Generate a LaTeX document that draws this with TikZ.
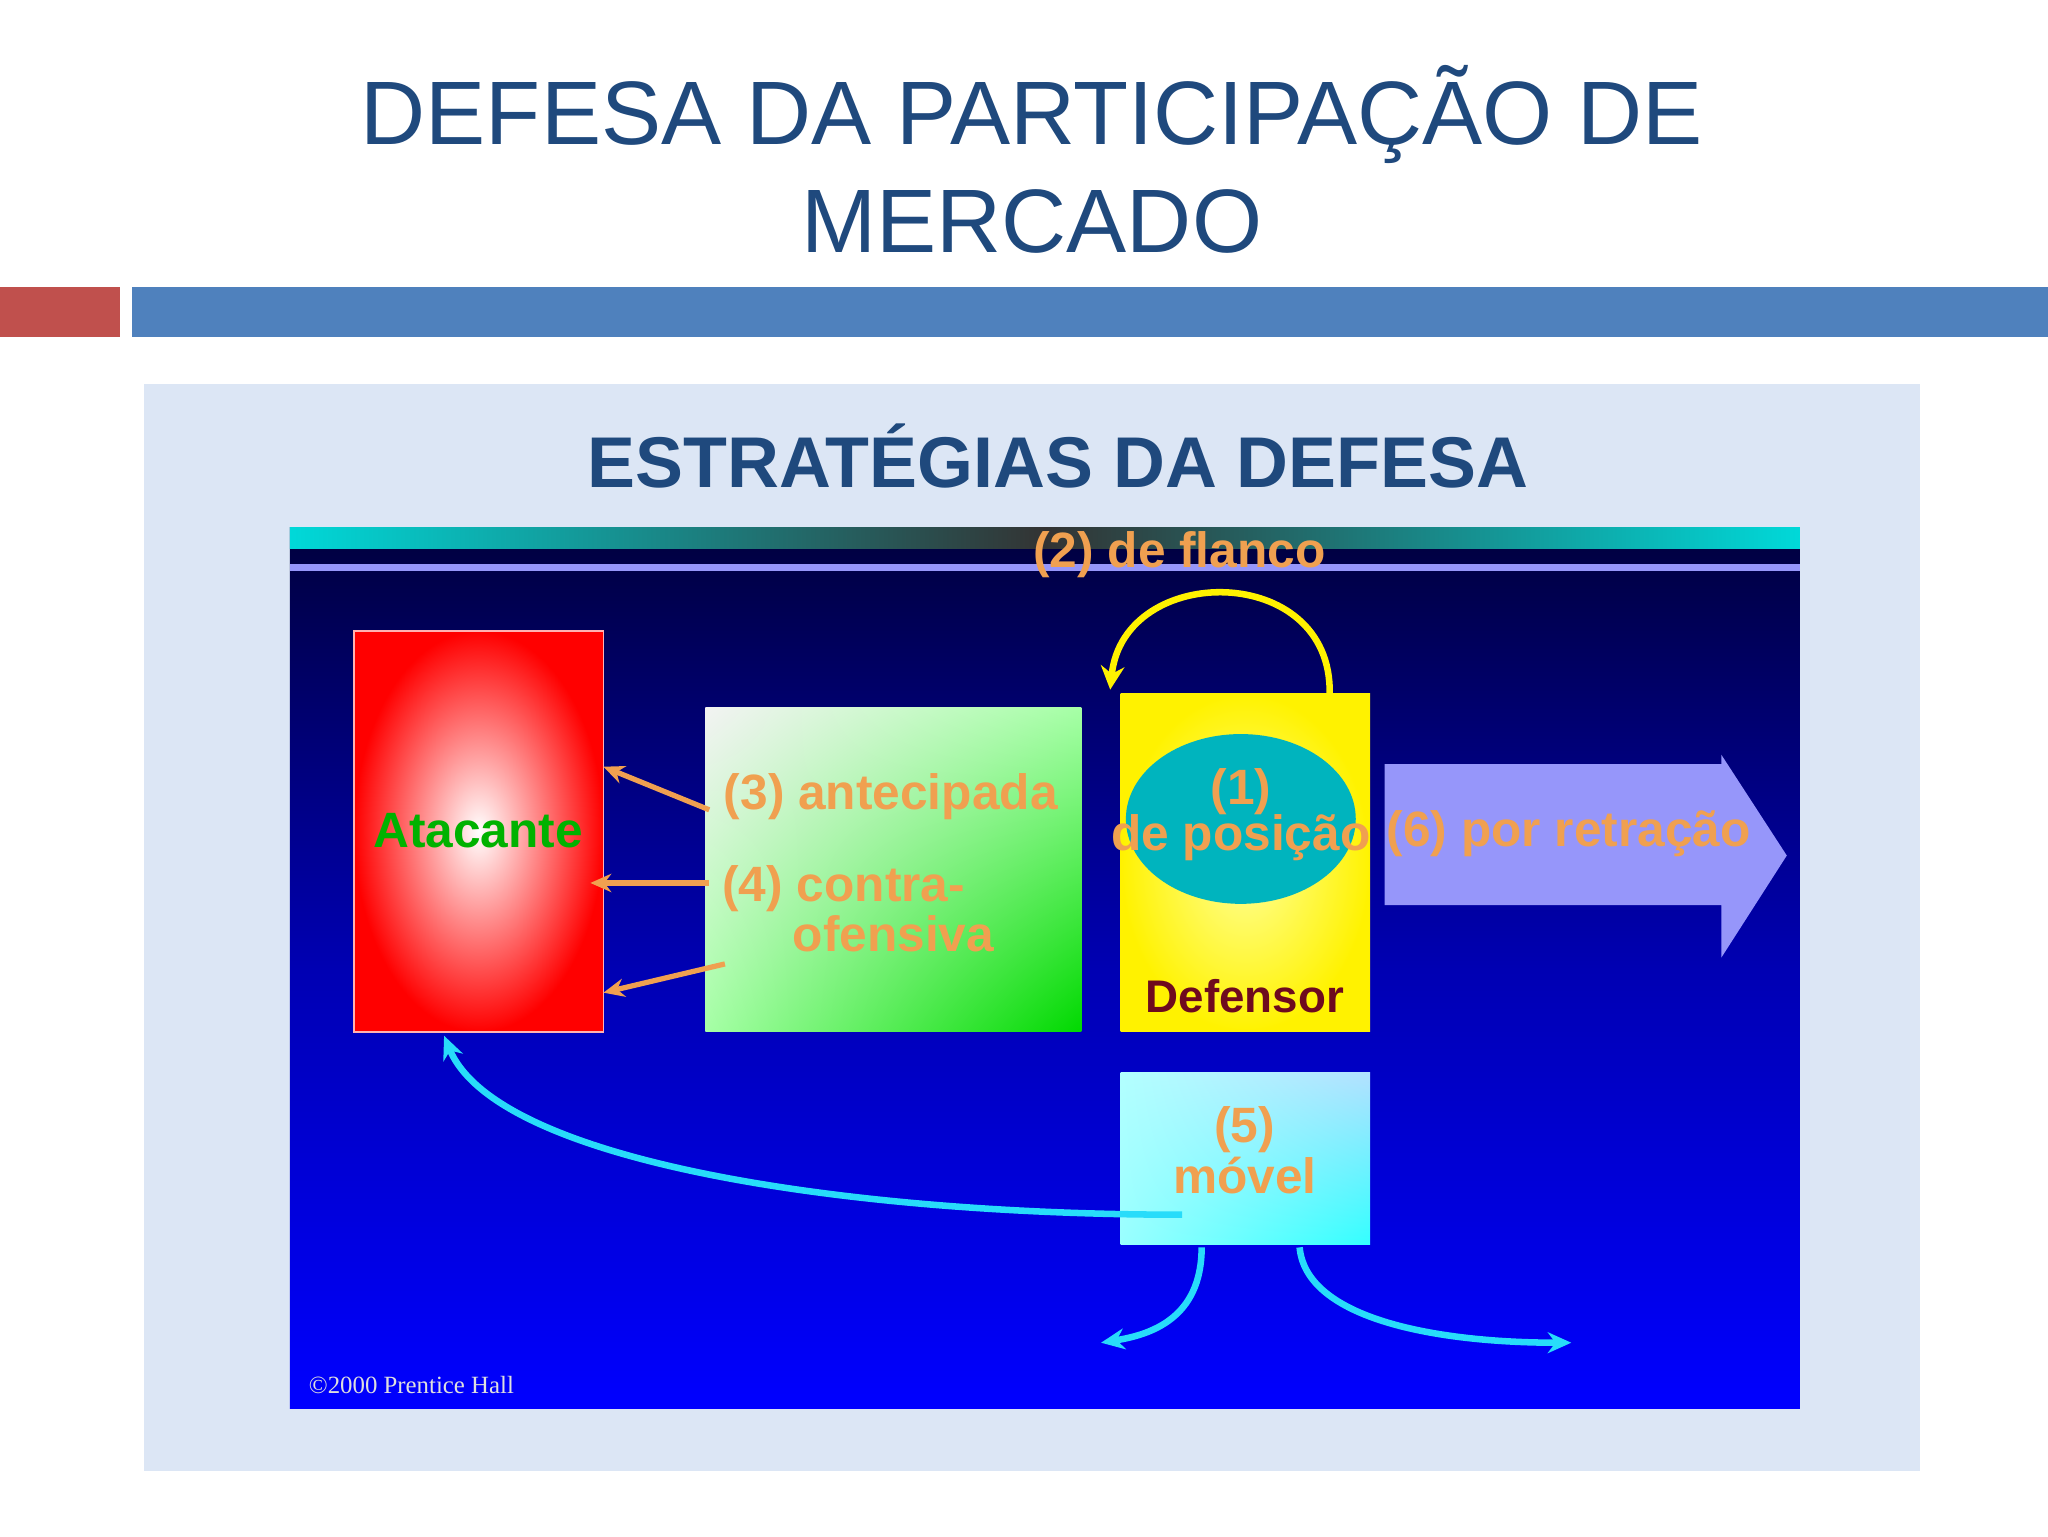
\documentclass[tikz,border=0pt]{standalone}
\usepackage{fontspec}
\setmainfont{Liberation Sans}
\usetikzlibrary{arrows.meta,shapes.geometric,shadings}
\definecolor{ttl}{RGB}{31,73,125}
\definecolor{barblue}{RGB}{79,129,189}
\definecolor{barred}{RGB}{192,80,77}
\definecolor{panel}{RGB}{220,230,245}
\definecolor{org}{RGB}{240,160,80}
\definecolor{teal1}{RGB}{0,180,190}
\definecolor{lav}{RGB}{150,150,250}
\definecolor{cyn}{RGB}{40,220,250}
\definecolor{dred}{RGB}{110,10,30}
\tikzset{
 lbl/.style={text=org,font=\bfseries\fontsize{38}{40}\selectfont,inner sep=0pt},
 oarr/.style={draw=org,line width=4pt,-{Stealth[length=16pt,width=14pt]}},
 carr/.style={draw=cyn,line width=5pt,-{Stealth[length=18pt,width=16pt]}},
}
\begin{document}
\begin{tikzpicture}[x=1pt,y=-1pt]
\useasboundingbox (0,0) rectangle (1568,1176);
\fill[white] (0,0) rectangle (1568,1176);
\node[text=ttl,font=\fontsize{69}{82}\selectfont,align=center] (title) at (790,122) {DEFESA DA PARTICIPAÇÃO DE\\MERCADO};
\fill[barred] (0,220) rectangle (92,258);
\fill[barblue] (101,220) rectangle (1568,258);
\fill[panel] (110,294) rectangle (1470,1126);
\node[text=ttl,font=\bfseries\fontsize{55}{60}\selectfont] (sub) at (810,349) {ESTRATÉGIAS DA DEFESA};
\shade[top color=black!60!blue!60!black, bottom color=blue, middle color=blue!70!black] (222,404) rectangle (1378,1078);
\shade[left color=cyan!70!teal, right color=cyan!70!teal, middle color=black!80] (222,404) rectangle (1378,420);
\fill[lav] (222,432) rectangle (1378,437);
\node[lbl] (flanco) at (903,425) {(2) de flanco};
% Atacante
\shade[inner color=white, outer color=red] (271,483) rectangle (462,790);
\draw[white!70!red,line width=1pt] (271,483) rectangle (462,790);
\node[text=green!70!black,font=\bfseries\fontsize{38}{40}\selectfont] (atac) at (366,636) {Atacante};
\coordinate (a1) at (462,587); \coordinate (a2) at (452,676); \coordinate (a3) at (462,760);
% green box
\shade[upper left=white!90!gray, lower right=green!85!black, lower left=green!35!white, upper right=green!35!white] (540,542) rectangle (828,790);
\node[lbl] (l3) at (682,610) {(3) antecipada};
\node[lbl] (l4) at (646,680) {(4) contra-};
\node[lbl] (l4b) at (684,715) {ofensiva};
\coordinate (g1) at (543,620); \coordinate (g2) at (543,676); \coordinate (g3) at (555,738);
\draw[oarr] (g1) -- (a1);
\draw[oarr] (g2) -- (a2);
\draw[oarr] (g3) -- (a3);
% Defensor
\shade[inner color=yellow!40, outer color=yellow!90!orange] (858,531) rectangle (1049,790);
\node[ellipse,fill=teal1,minimum width=176pt,minimum height=130pt] (pos) at (950,627) {};
\node[lbl] (p1) at (950,606) {(1)};
\node[lbl] (p2) at (950,641) {de posição};
\node[text=dred,font=\bfseries\fontsize{35}{36}\selectfont] (def) at (953,763) {Defensor};
\coordinate (y1) at (1018,531); \coordinate (y2) at (850,528);
\draw[draw=yellow,line width=5pt,-{Stealth[length=18pt,width=18pt]}] (y1) .. controls (1020,430) and (860,430) .. (y2);
% retracao arrow
\fill[lav] (1060,585) -- (1318,585) -- (1318,578) -- (1368,655) -- (1318,733) -- (1318,693) -- (1060,693) -- cycle;
\node[lbl] (l6) at (1201,638) {(6) por retração};
% movel
\shade[lower left=white!60!cyan, upper right=cyan!60!blue!30!white, lower right=cyan!80, upper left=white!70!cyan] (858,821) rectangle (1049,953);
\node[lbl] (m1) at (953,865) {(5)};
\node[lbl] (m2) at (953,900) {móvel};
\coordinate (c0) at (905,930); \coordinate (c1) at (340,793);
\draw[carr] (c0) .. controls (650,930) and (380,890) .. (c1);
\coordinate (d0) at (920,955); \coordinate (d1) at (843,1028);
\coordinate (e0) at (995,955); \coordinate (e1) at (1203,1028);
\draw[carr] (d0) .. controls (920,1010) and (880,1022) .. (d1);
\draw[carr] (e0) .. controls (1000,1010) and (1100,1028) .. (e1);
\node[anchor=west,text=white!75!gray,font=\fontspec{Liberation Serif}\fontsize{19}{20}\selectfont] (copy) at (233,1060) {©2000 Prentice Hall};
\end{tikzpicture}
\end{document}
